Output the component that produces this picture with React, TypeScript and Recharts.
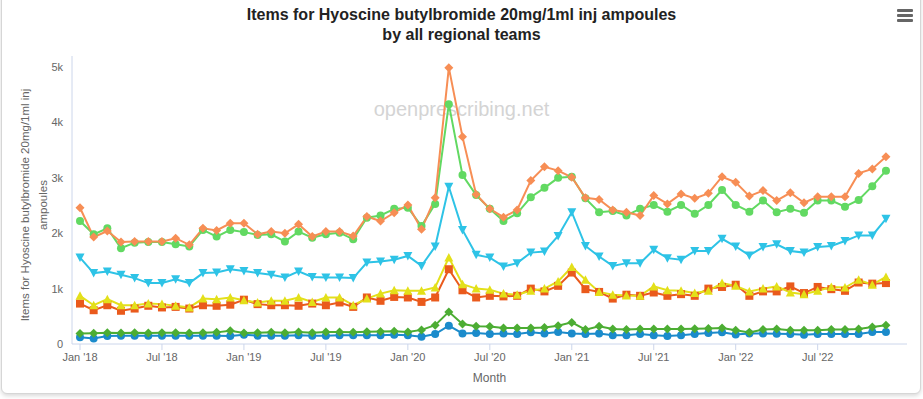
import React from "react";
import { LineChart, Line, XAxis, YAxis } from "recharts";

// monthly items per regional team, Jan 2018 – Dec 2022
const months = [
  "Jan '18", "Feb '18", "Mar '18", "Apr '18", "May '18", "Jun '18", "Jul '18", "Aug '18", "Sep '18", "Oct '18", "Nov '18", "Dec '18",
  "Jan '19", "Feb '19", "Mar '19", "Apr '19", "May '19", "Jun '19", "Jul '19", "Aug '19", "Sep '19", "Oct '19", "Nov '19", "Dec '19",
  "Jan '20", "Feb '20", "Mar '20", "Apr '20", "May '20", "Jun '20", "Jul '20", "Aug '20", "Sep '20", "Oct '20", "Nov '20", "Dec '20",
  "Jan '21", "Feb '21", "Mar '21", "Apr '21", "May '21", "Jun '21", "Jul '21", "Aug '21", "Sep '21", "Oct '21", "Nov '21", "Dec '21",
  "Jan '22", "Feb '22", "Mar '22", "Apr '22", "May '22", "Jun '22", "Jul '22", "Aug '22", "Sep '22", "Oct '22", "Nov '22", "Dec '22",
];

const xTicks = [0, 6, 12, 18, 24, 30, 36, 42, 48, 54];
const yTicks = [0, 1000, 2000, 3000, 4000, 5000];

const midlands = [
  2460, 1930, 2040, 1840, 1850, 1850, 1850, 1910, 1790, 2090, 2050, 2180,
  2180, 1980, 2030, 2000, 2160, 1940, 2030, 2030, 1950, 2300, 2220, 2370,
  2510, 2070, 2640, 4990, 3740, 2700, 2440, 2290, 2420, 2950, 3200, 3130,
  3010, 2640, 2610, 2420, 2380, 2320, 2680, 2530, 2710, 2630, 2720, 3020,
  2920, 2670, 2770, 2590, 2730, 2550, 2660, 2660, 2660, 3080, 3160, 3380,
];
const northEastYorks = [
  2220, 1980, 2090, 1730, 1830, 1840, 1840, 1800, 1760, 2060, 1940, 2060,
  2020, 1970, 1980, 1850, 2030, 1920, 1980, 2010, 1890, 2280, 2320, 2440,
  2460, 2130, 2530, 4330, 3050, 2690, 2440, 2220, 2360, 2650, 2820, 3000,
  3020, 2630, 2380, 2400, 2320, 2440, 2510, 2390, 2510, 2350, 2510, 2780,
  2510, 2390, 2590, 2380, 2440, 2370, 2590, 2590, 2480, 2600, 2850, 3130,
];
const northWest = [
  1560, 1280, 1310, 1250, 1190, 1100, 1100, 1170, 1100, 1280, 1290, 1350,
  1320, 1280, 1250, 1200, 1310, 1210, 1200, 1200, 1190, 1470, 1490, 1520,
  1590, 1410, 1760, 2840, 2060, 1610, 1560, 1400, 1460, 1650, 1670, 1950,
  2380, 1770, 1580, 1410, 1460, 1460, 1700, 1550, 1520, 1680, 1680, 1900,
  1760, 1600, 1750, 1800, 1680, 1650, 1750, 1770, 1860, 1960, 1960, 2260,
];
const southEast = [
  870, 700, 810, 700, 700, 730, 720, 690, 660, 820, 810, 840,
  790, 750, 780, 780, 840, 760, 840, 840, 700, 820, 910, 970,
  960, 960, 1020, 1560, 1080, 1000, 980, 910, 890, 960, 1000, 1130,
  1390, 1160, 940, 890, 875, 870, 1040, 970, 960, 920, 960, 1100,
  1050, 950, 1000, 1040, 930, 900, 960, 1030, 1020, 1160, 1070, 1210,
];
const eastOfEngland = [
  730, 610, 700, 600, 640, 690, 660, 670, 640, 700, 690, 710,
  800, 720, 700, 700, 690, 730, 700, 750, 670, 840, 780, 850,
  840, 760, 840, 1350, 970, 840, 870, 860, 870, 1000, 950, 1050,
  1290, 990, 940, 820, 890, 870, 930, 870, 900, 870, 1000, 1030,
  1070, 870, 950, 950, 1040, 920, 1030, 990, 960, 1110, 1090, 1100,
];
const southWest = [
  190, 195, 205, 200, 205, 200, 205, 205, 200, 205, 210, 240,
  200, 205, 210, 205, 215, 205, 215, 215, 210, 220, 225, 230,
  215, 255, 340, 580, 360, 320, 315, 290, 290, 290, 300, 330,
  390, 260, 320, 270, 260, 270, 270, 270, 270, 275, 280, 290,
  250, 210, 260, 270, 250, 250, 250, 260, 260, 270, 305, 340,
];
const london = [
  120, 100, 145, 150, 150, 150, 150, 150, 150, 150, 150, 145,
  165, 150, 150, 150, 160, 150, 150, 160, 160, 160, 160, 165,
  160, 130, 180, 330, 190, 200, 180, 190, 180, 210, 190, 215,
  190, 180, 190, 160, 160, 180, 160, 145, 160, 180, 200, 210,
  170, 190, 190, 185, 180, 165, 180, 180, 180, 180, 215, 215,
];

const data = months.map((m, i) => ({
  i,
  month: m,
  midlands: midlands[i],
  ney: northEastYorks[i],
  nw: northWest[i],
  se: southEast[i],
  eoe: eastOfEngland[i],
  sw: southWest[i],
  london: london[i],
}));

type Shape = "circle" | "diamond" | "square" | "triangle" | "triangle-down";

function marker(shape: Shape, color: string) {
  return (props: any) => {
    const { cx, cy, index } = props;
    if (cx == null || cy == null) return <g key={`m-${index}`} />;
    const k = `m-${index}`;
    if (shape === "circle") return <circle key={k} cx={cx} cy={cy} r={4} fill={color} />;
    if (shape === "square")
      return <rect key={k} x={cx - 4} y={cy - 4} width={8} height={8} fill={color} />;
    if (shape === "diamond")
      return (
        <path key={k} d={`M${cx},${cy - 4.5}L${cx + 4.5},${cy}L${cx},${cy + 4.5}L${cx - 4.5},${cy}Z`} fill={color} />
      );
    if (shape === "triangle")
      return <path key={k} d={`M${cx},${cy - 4.5}L${cx + 4.5},${cy + 4}L${cx - 4.5},${cy + 4}Z`} fill={color} />;
    return <path key={k} d={`M${cx - 4.5},${cy - 4}L${cx + 4.5},${cy - 4}L${cx},${cy + 4.5}Z`} fill={color} />;
  };
}

const series: { key: string; name: string; color: string; shape: Shape }[] = [
  { key: "london", name: "London", color: "#1b8bcb", shape: "circle" },
  { key: "sw", name: "South West", color: "#4cad33", shape: "diamond" },
  { key: "eoe", name: "East of England", color: "#ea5a1c", shape: "square" },
  { key: "se", name: "South East", color: "#e3e01a", shape: "triangle" },
  { key: "nw", name: "North West", color: "#2ec3e6", shape: "triangle-down" },
  { key: "ney", name: "North East and Yorkshire", color: "#62d962", shape: "circle" },
  { key: "midlands", name: "Midlands", color: "#f78e55", shape: "diamond" },
];

const font = '"Liberation Sans", Arial, Helvetica, sans-serif';

export default function App() {
  return (
    <div style={{ position: "absolute", left: 0, top: 0, width: 923, height: 399, background: "#fff", fontFamily: font, overflow: "hidden" }}>
      <div
        style={{
          position: "absolute",
          left: 1,
          top: -20,
          width: 918,
          height: 412,
          border: "1px solid #d6d6d6",
          borderRadius: 6,
          boxShadow: "0 2px 4px rgba(0,0,0,0.15)",
          background: "#fff",
        }}
      />
      <div style={{ position: "absolute", left: 0, top: 5, width: 923, textAlign: "center", fontSize: 16, fontWeight: "bold", color: "#222", lineHeight: "20px" }}>
        Items for Hyoscine butylbromide 20mg/1ml inj ampoules
        <br />
        by all regional teams
      </div>
      <div style={{ position: "absolute", left: 897, top: 9 }}>
        {[0, 5, 10].map((d) => (
          <div key={d} style={{ position: "absolute", left: 0, top: d, width: 16, height: 3, background: "#666", borderRadius: 1 }} />
        ))}
      </div>
      <div style={{ position: "absolute", left: 0, top: 98, width: 923, textAlign: "center", fontSize: 20, color: "#d4d4d4" }}>
        openprescribing.net
      </div>
      <div
        style={{
          position: "absolute",
          left: 34 - 150,
          top: 205 - 18,
          width: 300,
          height: 36,
          transform: "rotate(-90deg)",
          textAlign: "center",
          fontSize: 11.5,
          lineHeight: "18px",
          color: "#666",
        }}
      >
        Items for Hyoscine butylbromide 20mg/1ml inj
        <br />
        ampoules
      </div>
      <div style={{ position: "absolute", left: 72, top: 371, width: 835, textAlign: "center", fontSize: 12, color: "#666" }}>Month</div>
      <div style={{ position: "absolute", left: 0, top: 0 }}>
        <LineChart width={923} height={399} data={data} margin={{ top: 56, right: 16, bottom: 15, left: 0 }}>
          <XAxis
            dataKey="i"
            type="number"
            domain={[-0.586, 60.54]}
            ticks={xTicks}
            tickFormatter={(v: number) => months[v]}
            axisLine={{ stroke: "#ccd6eb" }}
            tickLine={{ stroke: "#ccd6eb" }}
            tickSize={6}
            tickMargin={3}
            height={40}
            tick={{ fontSize: 11, fill: "#666", fontFamily: font }}
            interval={0}
          />
          <YAxis
            type="number"
            domain={[0, 5200]}
            ticks={yTicks}
            allowDataOverflow
            tickFormatter={(v: number) => (v === 0 ? "0" : `${v / 1000}k`)}
            axisLine={{ stroke: "#ccd6eb" }}
            tickLine={false}
            tickSize={6}
            tickMargin={3}
            width={72}
            tick={{ fontSize: 11, fill: "#666", fontFamily: font }}
          />
          {series.map((s) => (
            <Line
              key={s.key}
              dataKey={s.key}
              name={s.name}
              stroke={s.color}
              strokeWidth={2}
              type="linear"
              dot={marker(s.shape, s.color)}
              activeDot={false}
              isAnimationActive={false}
            />
          ))}
        </LineChart>
      </div>
    </div>
  );
}
